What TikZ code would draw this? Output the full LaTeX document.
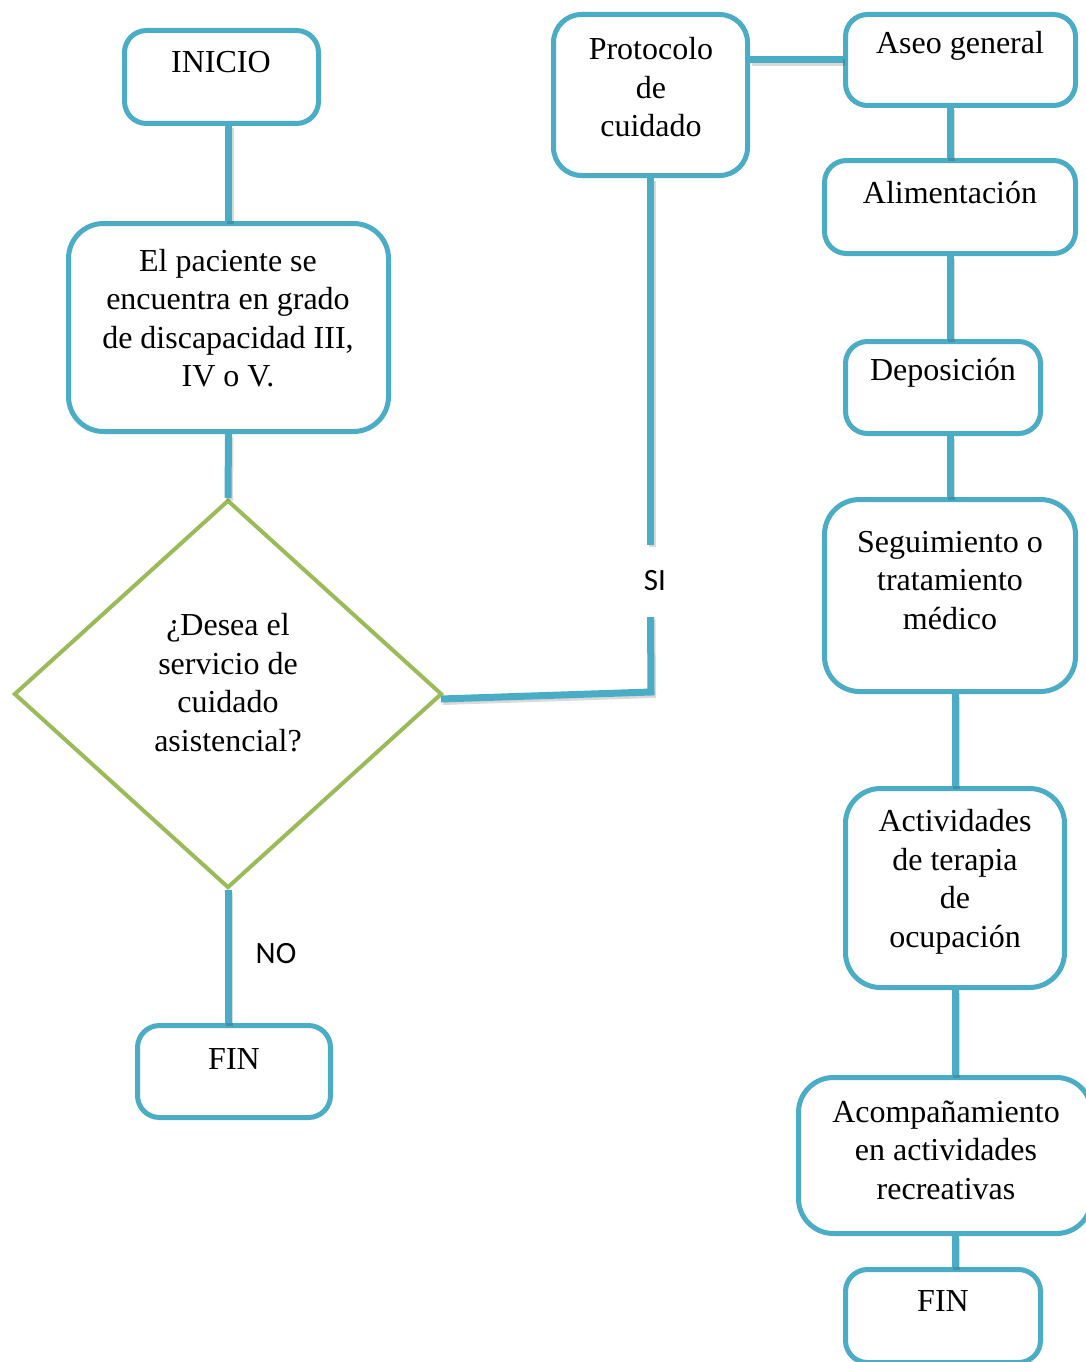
\documentclass[tikz,border=0pt]{standalone}
\usepackage{fontspec}
\setmainfont{Liberation Serif}
\newfontfamily\sansf{Carlito}
\usetikzlibrary{shapes.geometric,calc}
\definecolor{cblue}{HTML}{4BACC6}
\definecolor{cgreen}{HTML}{9BBB59}
\begin{document}
\begin{tikzpicture}[x=1pt,y=-1pt,
 box/.style={draw=cblue, line width=5pt, rounded corners=#1, fill=white, inner sep=0pt},
 box/.default=22pt,
 txt/.style={font=\fontsize{32}{38.5}\selectfont, align=center, inner sep=0pt},
 conn/.style={draw=cblue, line width=7pt,
   preaction={draw=black, opacity=0.15, line width=7pt, transform canvas={shift={(1.5pt,-2.5pt)}}}},
 lbl/.style={font=\sansf\fontsize{31}{36}\selectfont, inner sep=0pt}]
\useasboundingbox (0,0) rectangle (1086,1362);

% boxes
\node[box, minimum width=194pt, minimum height=93pt] (inicio) at (221.5,77) {};
\node[box=35pt, minimum width=320pt, minimum height=208pt] (paciente) at (228.5,327.5) {};
\node[diamond, draw=cgreen, line width=4pt, fill=white, inner sep=0pt,
      minimum width=428pt, minimum height=388pt] (dia) at (228,694) {};
\node[box, minimum width=193pt, minimum height=92pt] (fin1) at (234,1071.5) {};
\node[box=28pt, minimum width=194pt, minimum height=161pt] (proto) at (650.5,95) {};
\node[box, minimum width=230pt, minimum height=91pt] (aseo) at (960.5,60) {};
\node[box, minimum width=251pt, minimum height=93pt] (alim) at (950,207) {};
\node[box, minimum width=195pt, minimum height=92pt] (depo) at (943,387.5) {};
\node[box=35pt, minimum width=251pt, minimum height=192pt] (seg) at (950,595.5) {};
\node[box=35pt, minimum width=219pt, minimum height=199pt] (act) at (955,888) {};
\node[box=35pt, minimum width=293pt, minimum height=156pt] (acomp) at (945,1155.5) {};
\node[box, minimum width=195pt, minimum height=93pt] (fin2) at (943,1316) {};

% texts
\node[txt] (tinicio) at (221,62) {INICIO};
\node[txt] (tpac) at (228,318) {El paciente se\\encuentra en grado\\de discapacidad III,\\IV o V.};
\node[txt] (tdia) at (228,682.5) {¿Desea el\\servicio de\\cuidado\\asistencial?};
\node[txt] (tfin1) at (234,1059) {FIN};
\node[txt] (tproto) at (651,87.5) {Protocolo\\de\\cuidado};
\node[txt] (taseo) at (960,46) {Aseo general};
\node[txt] (talim) at (950,193) {Alimentación};
\node[txt] (tdepo) at (943,373) {Deposición};
\node[txt] (tseg) at (950,580.5) {Seguimiento o\\tratamiento\\médico};
\node[txt] (tact) at (955,882) {Actividades\\de terapia\\de\\ocupación};
\node[txt] (tacomp) at (946,1150) {Acompañamiento\\en actividades\\recreativas};
\node[txt] (tfin2) at (943,1301) {FIN};

% labels
\node[lbl, minimum height=72pt] (si) at (655,581) {SI};
\node[lbl] (no) at (276,954) {NO};
\coordinate (corner) at (651,692);

% connectors
\draw[conn] (inicio.south -| paciente.north) -- (paciente.north);
\draw[conn] (paciente.south) -- (dia.north);
\draw[conn] (dia.south) -- (fin1.north -| dia.south);
\draw[conn] (proto.south) -- (proto.south |- si.north);
\draw[conn, line join=miter] (proto.south |- si.south) -- (corner) -- ($(dia.east)+(-3,5)$);
\draw[conn] (aseo.west -| proto.east) -- (aseo.west);
\draw[conn] (aseo.south -| alim.north) -- (alim.north);
\draw[conn] (alim.south) -- (depo.north -| alim.south);
\draw[conn] (seg.north |- depo.south) -- (seg.north);
\draw[conn] (seg.south -| act.north) -- (act.north);
\draw[conn] (act.south) -- (acomp.north -| act.south);
\draw[conn] (acomp.south -| act.south) -- (fin2.north -| act.south);
\end{tikzpicture}
\end{document}
